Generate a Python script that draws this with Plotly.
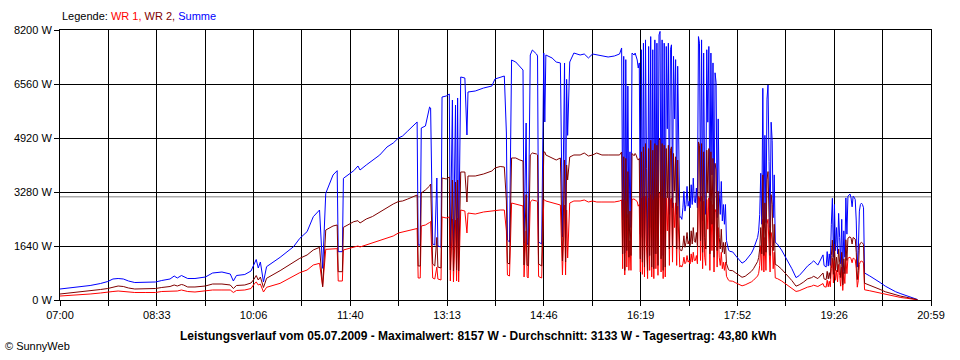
import plotly.graph_objects as go

# ---------------- data ----------------
times = [
    "07:00", "07:10", "07:19", "07:29", "07:39", "07:46", "07:51", "07:56", "08:01", "08:06",
    "08:12", "08:22", "08:32", "08:38", "08:46", "08:50", "08:53", "08:57", "08:59", "09:03",
    "09:10", "09:20", "09:27", "09:36", "09:44", "09:47", "09:50", "09:58", "10:04", "10:07",
    "10:09", "10:11", "10:13", "10:16", "10:19", "10:32", "10:45", "10:51", "10:58", "11:04",
    "11:10", "11:13", "11:16", "11:23", "11:27", "11:28", "11:32", "11:33", "11:43", "11:47",
    "11:49", "11:55", "12:01", "12:08", "12:15", "12:21", "12:26", "12:30", "12:35", "12:40",
    "12:44", "12:45", "12:47", "12:48", "12:52", "12:56", "12:57", "12:59", "13:01", "13:03",
    "13:04", "13:07", "13:08", "13:12", "13:15", "13:16", "13:18", "13:19", "13:21", "13:22",
    "13:23", "13:24", "13:26", "13:30", "13:32", "13:33", "13:40", "13:48", "13:56", "13:59",
    "14:04", "14:08", "14:10", "14:11", "14:13", "14:15", "14:19", "14:23", "14:26", "14:27",
    "14:29", "14:30", "14:31", "14:33", "14:35", "14:39", "14:40", "14:41", "14:44", "14:46",
    "14:47", "14:48", "14:54", "14:58", "15:02", "15:04", "15:06", "15:07", "15:08", "15:09",
    "15:11", "15:15", "15:21", "15:25", "15:29", "15:33", "15:37", "15:42", "15:48", "15:54",
    "15:59", "16:01",
    "16:02", "16:03", "16:04", "16:05", "16:06", "16:07", "16:08", "16:09", "16:10", "16:11",
    "16:12", "16:13", "16:14", "16:15", "16:16", "16:17", "16:18", "16:19", "16:20", "16:21",
    "16:22", "16:23", "16:24", "16:25", "16:26", "16:27", "16:28", "16:29", "16:30", "16:31",
    "16:32", "16:33", "16:34", "16:35", "16:36", "16:37", "16:38", "16:39", "16:40", "16:41",
    "16:42", "16:43", "16:44", "16:45", "16:46", "16:47", "16:48", "16:49", "16:50", "16:51",
    "16:52", "16:53", "16:54", "16:55", "16:56", "16:57", "16:58", "16:59", "17:00", "17:01",
    "17:02", "17:03", "17:04", "17:05", "17:06", "17:07", "17:08", "17:09", "17:10", "17:11",
    "17:12", "17:13", "17:14", "17:15", "17:16", "17:17", "17:18", "17:19", "17:20", "17:21",
    "17:22", "17:23", "17:24", "17:25", "17:26", "17:27", "17:28", "17:29", "17:30", "17:31",
    "17:32", "17:33", "17:34", "17:35", "17:36", "17:37", "17:38", "17:39", "17:40", "17:41",
    "17:42", "17:43", "17:44", "17:45",
    "17:48", "17:51", "17:54", "17:57", "18:00", "18:03", "18:06", "18:08", "18:10", "18:12",
    "18:13", "18:14", "18:15", "18:16", "18:17", "18:18", "18:19", "18:20", "18:21", "18:22",
    "18:23", "18:24", "18:25", "18:26", "18:27", "18:28", "18:29", "18:31", "18:35", "18:40",
    "18:45", "18:49", "18:52", "18:56", "19:00", "19:04", "19:06", "19:10", "19:15", "19:16",
    "19:18", "19:19", "19:20", "19:21", "19:22", "19:23", "19:24", "19:25", "19:26", "19:27",
    "19:28", "19:29", "19:30", "19:31", "19:32", "19:33", "19:34", "19:35", "19:36", "19:37",
    "19:38", "19:39", "19:40", "19:41", "19:42", "19:43", "19:44", "19:45", "19:46", "19:47",
    "19:48", "19:49", "19:50", "19:51", "19:52", "19:53", "19:54", "19:55", "20:00", "20:05",
    "20:10", "20:15", "20:20", "20:25", "20:30", "20:35", "20:40", "20:44", "20:46",
]

summe = [
    334, 364, 395, 440, 501, 562, 638, 653, 638, 577,
    531, 531, 547, 592, 638, 729, 668, 744, 714, 653,
    653, 698, 820, 850, 790, 577, 744, 774, 881, 1093,
    1230, 972, 1154, 547, 1012, 1296, 1620, 1873, 2075, 2530,
    2733, 962, 3240, 3796, 3928, 1468, 1468, 3695, 3928, 4070,
    3948, 4100, 4252, 4404, 4647, 4768, 4920, 4981, 5133, 5284,
    5406, 1670, 1670, 5224, 5284, 5861, 5831, 1701, 1670, 3705,
    1640, 1610, 6165, 6195, 6256, 1579, 6074, 1519, 5922, 1579,
    6135, 1519, 6773, 6742, 5011, 6317, 6347, 6438, 6499, 6712,
    6773, 6803, 5072, 1822, 1761, 7289, 7228, 7107, 6985, 1731,
    5375, 1731, 1670, 7441, 7593, 7471, 7410, 1761, 1701, 7501,
    5406, 7441, 7350, 7228, 7198, 1913, 7198, 1883, 6700, 5000,
    7228, 7501, 7441, 7471, 7350, 7471, 7441, 7410, 7380, 7410,
    7471, 7654,
    2430, 7400, 1430, 7300, 2500, 6500, 2100, 4500, 2200, 7500,
    7470, 7440, 7500, 7410, 7290, 7045, 7200, 2000, 7600, 1900,
    7800, 1500, 7900, 4000, 1300, 7700, 2200, 8000, 1600, 7600,
    1400, 7900, 2300, 7800, 1700, 8050, 8157, 2000, 7900, 1350,
    7800, 1600, 7700, 5200, 7800, 2600, 7600, 7750, 2800, 7400,
    5500, 7300, 2600, 7100, 4200, 2500, 2530, 2450, 2800, 3300,
    2700, 2900, 3450, 2850, 3000, 2800, 3500, 2900, 3700, 3000,
    2950, 3400, 2800, 8000, 7800, 3000, 7900, 2400, 7500, 3200,
    2600, 7600, 5400, 7700, 2300, 7500, 3800, 7200, 2100, 6900,
    6600, 2500, 5500, 3200, 2600, 3600, 2400, 2900, 2300, 2900,
    1800, 1650, 1520, 1480,
    1460, 1340, 1220, 1120, 1180, 1290, 1420, 1550, 1700, 1900,
    2100, 2600, 3850, 2300, 6430, 2200, 5000, 2350, 6100, 6530,
    4200, 2200, 5400, 4850, 2500, 3800, 1750, 1700, 1520, 1250,
    950, 680, 740, 880, 1030, 1130, 1190, 1060, 1370, 1050,
    1000, 1470, 1030, 1400, 1050, 2300, 3090, 1300, 2900, 1500,
    2200, 1400, 2630, 1900, 1100, 2450, 750, 2100, 1300, 3100,
    2000, 3150, 3180, 3220, 3100, 2830, 3150, 3120, 3050, 2400,
    1000, 1500, 2700, 2900, 2940, 2900, 2800, 820, 730, 640,
    530, 420, 330, 250, 190, 140, 95, 50, 15,
]

wr2 = [
    182, 213, 243, 273, 319, 349, 395, 425, 410, 364,
    334, 334, 349, 380, 410, 456, 425, 471, 456, 395,
    395, 425, 486, 486, 456, 349, 440, 456, 516, 638,
    744, 607, 698, 380, 659, 891, 1164, 1266, 1367, 1519,
    1599, 405, 2126, 2247, 2278, 860, 860, 2207, 2379, 2409,
    2338, 2460, 2536, 2673, 2824, 2916, 2991, 3007, 3067, 3143,
    3189, 1033, 1033, 3250, 3341, 3462, 3523, 1093, 1033, 1900,
    1002, 972, 3705, 3675, 3735, 911, 3644, 881, 3584, 911,
    3644, 881, 3887, 3887, 2976, 3766, 3766, 3827, 3918, 4009,
    4054, 4039, 3007, 1124, 1093, 4313, 4313, 4252, 4221, 1063,
    3200, 1063, 1033, 4404, 4464, 4434, 4404, 1093, 1033, 4495,
    4495, 4404, 4313, 4252, 4313, 1184, 4252, 1154, 4100, 3644,
    4343, 4404, 4404, 4464, 4373, 4404, 4464, 4404, 4404, 4404,
    4404, 4495,
    1400, 4350, 900, 4300, 1500, 3900, 1300, 2700, 1350, 4450,
    4400, 4380, 4450, 4400, 4300, 4250, 4300, 1250, 4500, 1150,
    4650, 1000, 4750, 2400, 900, 4600, 1350, 4850, 1000, 4550,
    950, 4750, 1400, 4700, 1050, 4850, 4900, 1250, 4750, 900,
    4700, 1000, 4600, 3100, 4700, 1550, 4550, 4650, 1650, 4450,
    3300, 4350, 1550, 4250, 2500, 1550, 1500, 1500, 1650, 1950,
    1600, 1750, 2050, 1700, 1800, 1650, 2100, 1700, 2200, 1800,
    1750, 2050, 1650, 4800, 4700, 1800, 4750, 1450, 4500, 1900,
    1550, 4550, 3250, 4600, 1400, 4500, 2300, 4300, 1300, 4150,
    3950, 1500, 3300, 1900, 1550, 2150, 1450, 1750, 1400, 1750,
    1100, 1000, 920, 900,
    890, 820, 750, 690, 720, 790, 870, 950, 1040, 1170,
    1290, 1550, 2200, 1400, 3800, 1350, 2950, 1450, 3650, 3900,
    2500, 1350, 3200, 2900, 1500, 2300, 1080, 1050, 940, 780,
    590, 420, 460, 540, 640, 680, 720, 650, 820, 640,
    620, 870, 640, 830, 650, 1350, 1820, 780, 1700, 900,
    1300, 850, 1550, 1150, 680, 1450, 460, 1250, 800, 1830,
    1200, 1880, 1900, 1920, 1880, 1700, 1900, 1880, 1850, 1450,
    620, 900, 1650, 1730, 1750, 1730, 1680, 510, 450, 400,
    320, 250, 200, 150, 115, 85, 58, 30, 9,
]

wr1 = [
    121, 137, 152, 182, 213, 228, 258, 273, 258, 243,
    228, 228, 228, 258, 273, 289, 273, 304, 289, 258,
    243, 273, 304, 304, 304, 228, 289, 304, 349, 486,
    547, 456, 486, 243, 385, 506, 729, 830, 911, 1063,
    1114, 405, 1539, 1559, 1559, 577, 577, 1519, 1620, 1640,
    1610, 1670, 1731, 1792, 1883, 1944, 2035, 2065, 2096, 2126,
    2171, 668, 668, 2247, 2278, 2354, 2384, 668, 638, 1000,
    638, 607, 2521, 2490, 2521, 577, 2460, 547, 2430, 577,
    2490, 547, 2733, 2703, 2035, 2642, 2612, 2673, 2703, 2733,
    2733, 2733, 2096, 759, 729, 2946, 2916, 2885, 2855, 699,
    2100, 699, 668, 2976, 3037, 3007, 2976, 714, 668, 3037,
    3037, 3007, 2946, 2916, 2885, 759, 2885, 759, 2733, 1276,
    2946, 3007, 3007, 3037, 2976, 3007, 2976, 2976, 2976, 2976,
    3007, 3037,
    950, 3050, 760, 3000, 1000, 2600, 900, 1800, 900, 3050,
    3070, 3060, 3050, 3010, 2990, 2850, 2900, 850, 3100, 780,
    3150, 700, 3150, 1600, 650, 3100, 900, 3200, 700, 3050,
    650, 3150, 950, 3100, 750, 3200, 3250, 850, 3150, 650,
    3100, 700, 3100, 2100, 3100, 1050, 3050, 3100, 1150, 2950,
    2200, 2950, 1050, 2850, 1700, 1000, 1050, 1000, 1100, 1300,
    1100, 1150, 1350, 1150, 1200, 1100, 1400, 1150, 1450, 1200,
    1200, 1350, 1100, 3150, 3100, 1200, 3150, 950, 3000, 1300,
    1050, 3050, 2150, 3100, 900, 3000, 1500, 2900, 850, 2750,
    2650, 1000, 2200, 1300, 1050, 1450, 950, 1150, 900, 1150,
    720, 650, 600, 580,
    570, 520, 470, 430, 460, 500, 550, 600, 660, 730,
    810, 1050, 1650, 900, 2450, 850, 1900, 900, 2300, 2450,
    1600, 850, 2050, 1850, 950, 1450, 670, 650, 580, 470,
    360, 260, 280, 340, 390, 420, 450, 410, 500, 410,
    390, 600, 400, 570, 400, 950, 1270, 520, 1200, 600,
    900, 550, 1080, 750, 420, 1000, 290, 850, 500, 1270,
    800, 1270, 1280, 1300, 1250, 1130, 1270, 1260, 1220, 950,
    390, 600, 1080, 1170, 1180, 1170, 1120, 310, 280, 245,
    205, 165, 130, 100, 75, 55, 37, 20, 6,
]

x_tick_labels = ["07:00", "08:33", "10:06", "11:40", "13:13",
                 "14:46", "16:19", "17:52", "19:26", "20:59"]
y_tick_values = [0, 1640, 3280, 4920, 6560, 8200]

datum = "05.07.2009"
maximalwert = 8157
durchschnitt = 3133
tagesertrag = "43,80"

assert len(times) == len(summe) == len(wr1) == len(wr2)

# ---------------- figure ----------------
FONT = "Liberation Sans, Arial, sans-serif"


def to_min(s):
    h, m = s.split(":")
    return int(h) * 60 + int(m)


x = [to_min(t) for t in times]
x_start = to_min(x_tick_labels[0])
x_end = to_min(x_tick_labels[-1])
n_grid = 2 * (len(x_tick_labels) - 1)
grid_vals = [x_start + i * (x_end - x_start) / n_grid for i in range(n_grid + 1)]
grid_text = [x_tick_labels[i // 2] if i % 2 == 0 else "" for i in range(n_grid + 1)]

fig = go.Figure()
fig.add_trace(go.Scatter(x=x, y=summe, mode="lines", name="Summe",
                         line=dict(color="#0000FF", width=1)))
fig.add_trace(go.Scatter(x=x, y=wr1, mode="lines", name="WR 1",
                         line=dict(color="#FF0000", width=1)))
fig.add_trace(go.Scatter(x=x, y=wr2, mode="lines", name="WR 2",
                         line=dict(color="#800000", width=1)))

fig.add_shape(type="line", xref="paper", x0=0, x1=1, yref="y",
              y0=durchschnitt, y1=durchschnitt,
              line=dict(color="#808080", width=1), layer="below")

axis_common = dict(
    showgrid=True, gridcolor="#000000", gridwidth=1,
    showline=True, linecolor="#000000", linewidth=1, mirror=True,
    ticks="outside", ticklen=5, tickwidth=1, tickcolor="#000000",
    zeroline=False, fixedrange=True,
    tickfont=dict(family=FONT, size=11, color="#000000"),
)

fig.update_xaxes(range=[x_start, x_end], tickmode="array",
                 tickvals=grid_vals, ticktext=grid_text, **axis_common)
fig.update_yaxes(range=[0, y_tick_values[-1]], tickmode="array",
                 tickvals=y_tick_values,
                 ticktext=[f"{v} W" for v in y_tick_values], **axis_common)

legend_text = ("Legende: <span style='color:#FF0000'>WR 1,</span> "
               "<span style='color:#800000'>WR 2,</span> "
               "<span style='color:#0000FF'>Summe</span>")
title_text = (f"<b>Leistungsverlauf vom {datum} - Maximalwert: {maximalwert} W - "
              f"Durchschnitt: {durchschnitt} W - Tagesertrag: {tagesertrag} kWh</b>")

fig.add_annotation(text=legend_text, xref="paper", yref="paper",
                   x=0.0, y=1.052, xanchor="left", yanchor="middle",
                   showarrow=False, font=dict(family=FONT, size=11, color="#000000"))
fig.add_annotation(text=title_text, xref="paper", yref="paper",
                   x=0.481, y=-0.133, xanchor="center", yanchor="middle",
                   showarrow=False, font=dict(family=FONT, size=12, color="#000000"))
fig.add_annotation(text="© SunnyWeb", xref="paper", yref="paper",
                   x=-0.066, y=-0.170, xanchor="left", yanchor="middle",
                   showarrow=False, font=dict(family=FONT, size=11, color="#000000"))

fig.update_layout(
    width=960, height=360, autosize=False,
    margin=dict(l=60, r=29, t=30, b=60),
    paper_bgcolor="#FFFFFF", plot_bgcolor="#FFFFFF",
    showlegend=False,
    font=dict(family=FONT, size=11, color="#000000"),
)

fig.write_html("out.html", config={"displayModeBar": False},
               post_script="document.body.style.margin='0';")
